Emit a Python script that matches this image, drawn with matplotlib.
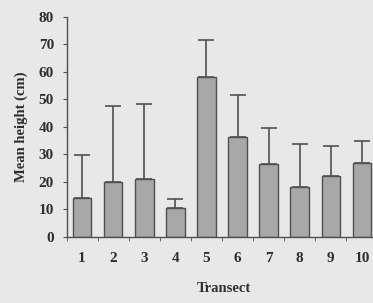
import matplotlib
matplotlib.use("Agg")
import matplotlib.pyplot as plt
import numpy as np

transects = ["1", "2", "3", "4", "5", "6", "7", "8", "9", "10"]
mean_height = [14.0, 19.8, 21.0, 10.5, 58.0, 36.4, 26.3, 18.0, 22.2, 26.9]
upper_error = [15.7, 27.7, 27.4, 3.1, 13.5, 15.1, 13.1, 15.7, 11.0, 8.0]
y_ticks = [0, 10, 20, 30, 40, 50, 60, 70, 80]

bg = "#e8e8e8"
txt = "#2e2e2e"
plt.rcParams['font.family'] = ['Liberation Serif', 'DejaVu Serif']

fig = plt.figure(figsize=(3.73, 3.03), dpi=100, facecolor=bg)
ax = fig.add_axes([66.5/373, 66.3/303, 311/373, 219.7/303])
ax.set_facecolor(bg)

x = np.arange(1, len(transects) + 1)
ax.bar(x, mean_height, width=0.6, color="#a8a8a8", edgecolor="#505050", linewidth=1.0, zorder=2)
ax.errorbar(x, mean_height, yerr=[np.zeros(len(x)), upper_error], fmt="none",
            ecolor="#505050", elinewidth=1.2, capsize=6, capthick=1.2, zorder=1)

ax.set_xlim(0.5, 10.5)
ax.set_ylim(0, 80)
ax.set_yticks(y_ticks)
ax.set_yticklabels([str(v) for v in y_ticks], fontsize=11, fontweight="bold", color=txt)
ax.set_xticks(x)
ax.set_xticklabels(transects, fontsize=11, fontweight="bold", color=txt)
ax.set_xticks(np.arange(0.5, 11, 1), minor=True)
ax.tick_params(axis="x", which="major", length=0, pad=11)
ax.tick_params(axis="x", which="minor", length=3, direction="out", color="#505050")
ax.tick_params(axis="y", length=3, direction="out", color="#505050", pad=6)

for s in ["top", "right"]:
    ax.spines[s].set_visible(False)
for s in ["left", "bottom"]:
    ax.spines[s].set_color("#505050")
    ax.spines[s].set_linewidth(1.0)

ax.set_ylabel("Mean height (cm)", fontsize=10.5, fontweight="bold", color=txt, labelpad=8)
ax.set_xlabel("Transect", fontsize=10.5, fontweight="bold", color=txt)
ax.xaxis.set_label_coords((224 - 66.5) / 311, -(282 - 236.7) / 219.7)

fig.savefig("out.png", dpi=100, facecolor=bg)
